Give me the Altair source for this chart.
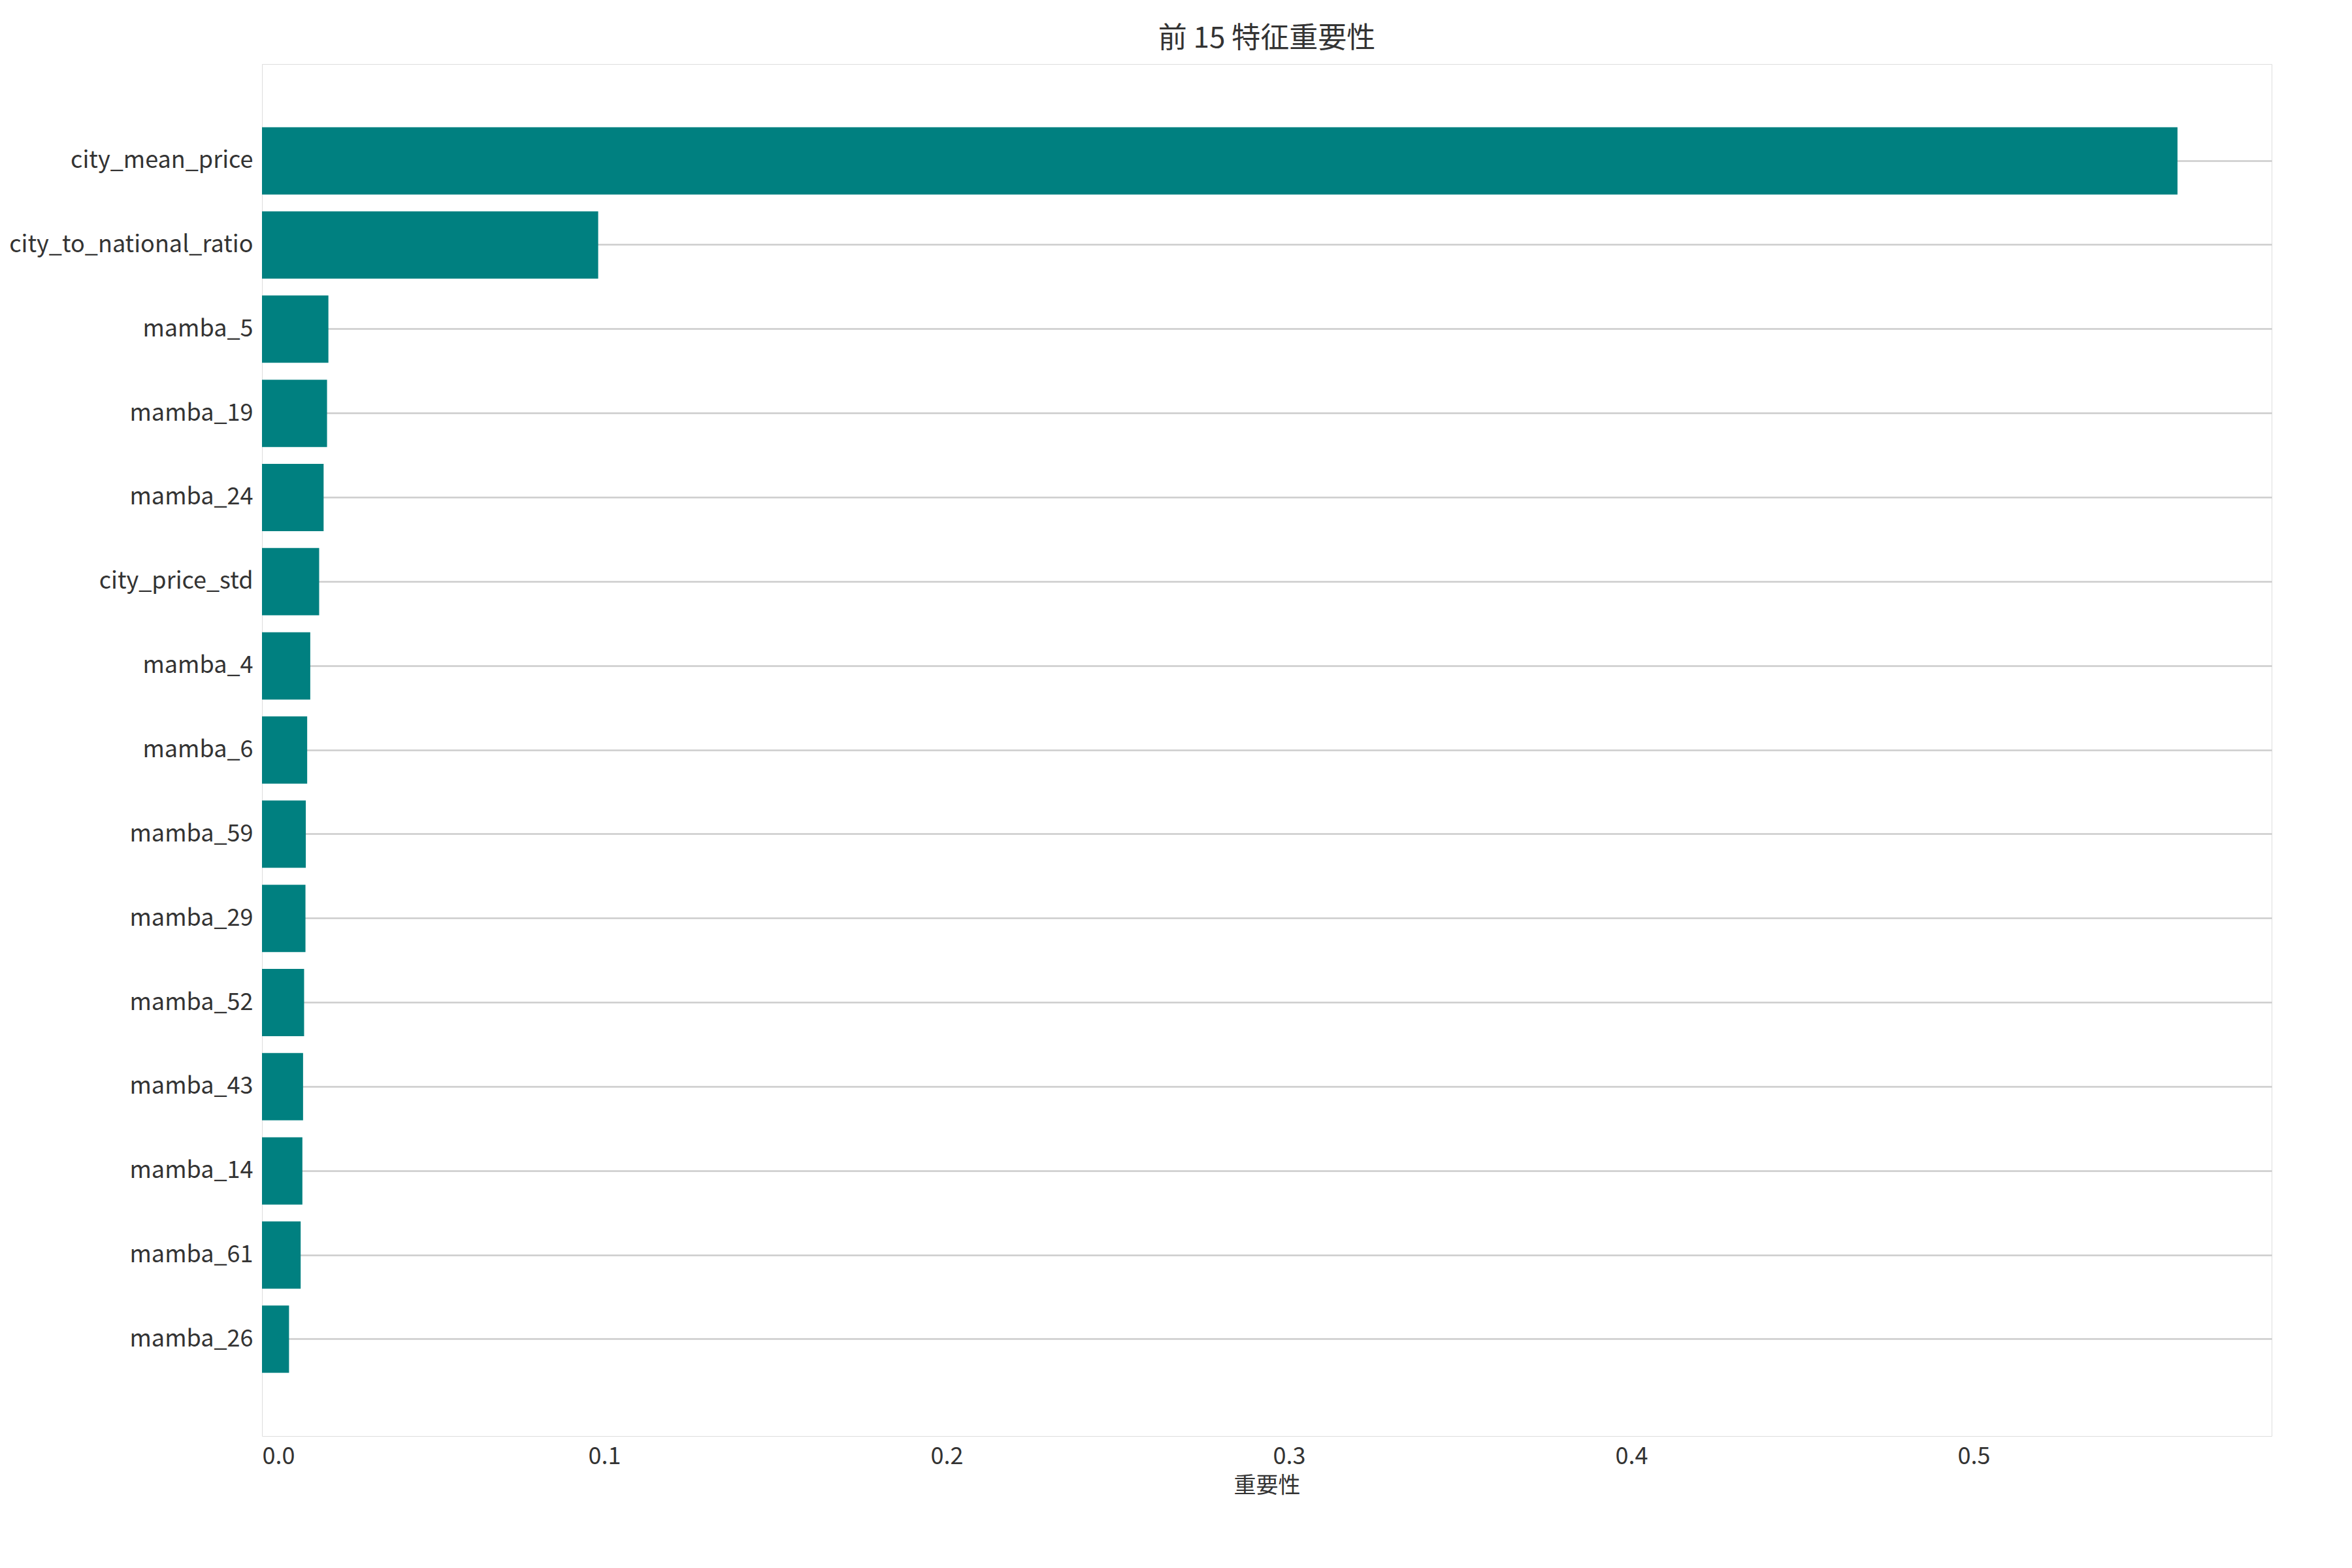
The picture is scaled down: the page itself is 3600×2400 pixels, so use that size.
import altair as alt
import pandas as pd

features = ["city_mean_price","city_to_national_ratio","mamba_5","mamba_19","mamba_24",
            "city_price_std","mamba_4","mamba_6","mamba_59","mamba_29","mamba_52",
            "mamba_43","mamba_14","mamba_61","mamba_26"]
importance = [0.5595,0.0982,0.0194,0.0190,0.0180,0.0167,0.0141,0.0132,0.0128,0.0127,
              0.0123,0.0120,0.0118,0.0113,0.0079]

df = pd.DataFrame({"feature": features, "importance": importance})
F = "Noto Sans CJK JP"

chart = alt.Chart(df).mark_bar(color="#008080").encode(
    x=alt.X("importance:Q", title="重要性",
            scale=alt.Scale(domain=[0, 0.587], nice=False, zero=True),
            axis=alt.Axis(values=[0,0.1,0.2,0.3,0.4,0.5], format=".1f", grid=False,
                          labelFontSize=36, titleFontSize=34, labelColor="#333", titleColor="#333",
                          titleFontWeight="normal",
                          domain=False, ticks=False, labelPadding=14, titlePadding=10, labelFont=F, titleFont=F)),
    y=alt.Y("feature:N", sort=features, title=None,
            scale=alt.Scale(paddingInner=0.2, paddingOuter=0.75),
            axis=alt.Axis(grid=True, bandPosition=0.5, gridColor="#cccccc", gridWidth=2.5,
                          labelFontSize=36, labelColor="#333", domain=False, ticks=False,
                          labelPadding=14, labelFont=F, labelLimit=0)),
).properties(
    width=3076, height=2100,
    padding={"top": 30, "left": 5, "right": 5, "bottom": 5},
    title=alt.TitleParams("前 15 特征重要性", fontSize=44, font=F, fontWeight="normal", color="#333", offset=16),
).configure_view(stroke="#bbbbbb", strokeWidth=2.5).configure(background="white")

chart.save("out.html", embed_options={"renderer": "svg", "actions": False})
